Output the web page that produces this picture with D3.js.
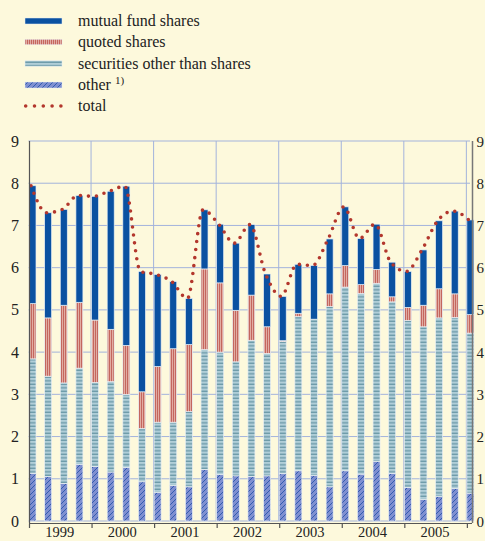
<!DOCTYPE html>
<html><head><meta charset="utf-8">
<script src="https://cdn.jsdelivr.net/npm/d3@7"></script>
<style>
html,body{margin:0;padding:0;background:#fdf9dc;}
svg{display:block;}
text{font-family:"Liberation Serif","Times New Roman",serif;fill:#222;}
</style></head>
<body>
<script>
// quarters 1999 Q1 .. 2006 Q1
const quarters = d3.range(29).map(i => 1999 + i / 4);
const other      = [1.13,1.05,0.89,1.34,1.29,1.16,1.27,0.93,0.68,0.84,0.81,1.22,1.10,1.07,1.05,1.07,1.12,1.19,1.08,0.81,1.19,1.11,1.41,1.13,0.79,0.51,0.58,0.77,0.66];
const securities = [2.71,2.38,2.38,2.28,1.99,2.14,1.73,1.26,1.66,1.50,1.78,2.84,2.90,2.70,3.23,2.90,3.13,3.65,3.70,4.27,4.35,4.28,4.22,4.06,3.96,4.09,4.23,4.05,3.79];
const quoted     = [1.31,1.38,1.84,1.56,1.48,1.24,1.16,0.87,1.32,1.74,1.59,1.91,1.64,1.22,1.07,0.63,0.02,0.08,0.00,0.30,0.51,0.21,0.33,0.12,0.31,0.51,0.69,0.56,0.44];
const mutual     = [2.79,2.49,2.27,2.53,2.93,3.27,3.77,2.85,2.18,1.59,1.09,1.40,1.39,1.59,1.67,1.25,1.05,1.16,1.27,1.30,1.39,1.09,1.07,0.82,0.85,1.31,1.61,1.96,2.24];
const total      = [7.94,7.30,7.38,7.71,7.69,7.81,7.93,5.91,5.84,5.67,5.27,7.37,7.03,6.58,7.02,5.85,5.32,6.08,6.05,6.68,7.44,6.69,7.03,6.13,5.91,6.42,7.11,7.34,7.13];
const years = [1999,2000,2001,2002,2003,2004,2005];
const yTicks = [0,1,2,3,4,5,6,7,8,9];
const seriesNames = ["mutual fund shares","quoted shares","securities other than shares","other"];
const seriesKeys = ["other","securities","quoted","mutual"];

const W = 485, H = 541;
const svg = d3.select("body").append("svg").attr("width", W).attr("height", H);
svg.append("rect").attr("width", W).attr("height", H).attr("fill", "#fdf9dc");

const defs = svg.append("defs");
// quoted: vertical stripes
const pq = defs.append("pattern").attr("id","pq").attr("patternUnits","userSpaceOnUse").attr("width",2).attr("height",4);
pq.append("rect").attr("width",2).attr("height",4).attr("fill","#e2ada3");
pq.append("rect").attr("x",1).attr("width",1).attr("height",4).attr("fill","#c4665e");
// securities: horizontal stripes
const ps = defs.append("pattern").attr("id","ps").attr("patternUnits","userSpaceOnUse").attr("width",4).attr("height",3.5);
ps.append("rect").attr("width",4).attr("height",3.5).attr("fill","#b0ced8");
ps.append("rect").attr("y",2.2).attr("width",4).attr("height",1.2).attr("fill","#6594a3");
// other: diagonal hatch
const po = defs.append("pattern").attr("id","po").attr("patternUnits","userSpaceOnUse").attr("width",5).attr("height",5);
po.append("rect").attr("width",5).attr("height",5).attr("fill","#7f8fd0");
po.append("path").attr("d","M0,5 L5,0 M-1,1 L1,-1 M4,6 L6,4").attr("stroke","#1f4fa8").attr("stroke-width",0.8);

const x = d3.scaleLinear().domain([1999, 2006.09]).range([28.5, 472]);
const y = d3.scaleLinear().domain([0, 9]).range([521, 141]);
const barW = 7;

// grid
const grid = svg.append("g");
grid.selectAll("line.h").data(yTicks).join("line")
  .attr("x1", x(1999)).attr("x2", 470).attr("y1", d => y(d)).attr("y2", d => y(d))
  .attr("stroke", "#a3b3dc").attr("stroke-width", 1);
grid.selectAll("line.v").data(years.slice(1).concat([2006])).join("line")
  .attr("x1", d => x(d)).attr("x2", d => x(d)).attr("y1", y(9)).attr("y2", y(0))
  .attr("stroke", "#a3b3dc").attr("stroke-width", 1);

// stacked bars
const rows = quarters.map((q, i) => ({q, other: other[i], securities: securities[i], quoted: quoted[i], mutual: mutual[i]}));
const stack = d3.stack().keys(seriesKeys)(rows);
const fills = {other: "url(#po)", securities: "url(#ps)", quoted: "url(#pq)", mutual: "#0a51a1"};
svg.append("g").selectAll("g").data(stack).join("g")
  .attr("fill", d => fills[d.key])
  .selectAll("rect").data(d => d.filter(e => e[1] - e[0] > 0.001)).join("rect")
  .attr("x", d => x(d.data.q) + 0.5).attr("width", barW)
  .attr("y", d => y(d[1])).attr("height", d => y(d[0]) - y(d[1]))
  .attr("stroke", "#e8eef2").attr("stroke-width", 0.7);

// total dotted line
const line = d3.line().x((d, i) => x(quarters[i]) + 0.5 + barW / 2 - 1.5).y(d => y(d)).curve(d3.curveMonotoneX);
svg.append("path").datum(total).attr("d", line)
  .attr("fill", "none").attr("stroke", "#b3372d").attr("stroke-width", 3.6)
  .attr("stroke-linecap", "round").attr("stroke-dasharray", "0 8");

// axes lines
svg.append("line").attr("x1", 29.5).attr("x2", 29.5).attr("y1", y(9)).attr("y2", y(0) + 2)
  .attr("stroke", "#555").attr("stroke-width", 1.2);
svg.append("line").attr("x1", 472.5).attr("x2", 472.5).attr("y1", y(9)).attr("y2", y(0) + 2)
  .attr("stroke", "#777").attr("stroke-width", 1.5);
svg.append("line").attr("x1", 29).attr("x2", 472).attr("y1", 523.5).attr("y2", 523.5)
  .attr("stroke", "#555").attr("stroke-width", 1.2);
svg.selectAll("line.xt").data(years.concat([2006])).join("line")
  .attr("x1", d => x(d) + 1).attr("x2", d => x(d) + 1).attr("y1", 523.5).attr("y2", 528)
  .attr("stroke", "#555").attr("stroke-width", 1.2);

// y tick labels
svg.selectAll("text.yl").data(yTicks).join("text")
  .attr("x", 19).attr("y", d => y(d) + 5.5).attr("text-anchor", "end")
  .attr("font-size", 16).text(d => d);
svg.selectAll("text.yr").data(yTicks).join("text")
  .attr("x", 476.5).attr("y", d => y(d) + 5.5).attr("text-anchor", "start")
  .attr("font-size", 15).text(d => d);
// year labels
svg.selectAll("text.xl").data(years).join("text")
  .attr("x", d => x(d + 0.5)).attr("y", 537).attr("text-anchor", "middle")
  .attr("font-size", 14.5).text(d => d);

// legend
const lg = svg.append("g");
const legY = [21, 42, 63.5, 85, 106];
const sw = [
  {fill: "#0a51a1", h: 6},
  {fill: "url(#pq)", h: 5.5},
  {fill: "url(#ps)", h: 5.5},
  {fill: "url(#po)", h: 6}
];
seriesNames.forEach((name, i) => {
  lg.append("rect").attr("x", 25).attr("y", legY[i] - sw[i].h / 2).attr("width", 37).attr("height", sw[i].h)
    .attr("fill", sw[i].fill).attr("stroke", "#e8eef2").attr("stroke-width", 0.5);
  const t = lg.append("text").attr("x", 78).attr("y", legY[i] + 5).attr("font-size", 16).text(name);
  if (i === 3) t.append("tspan").attr("dx", 4).attr("dy", -6).attr("font-size", 11).text("1)");
});
lg.append("line").attr("x1", 25.7).attr("x2", 61).attr("y1", legY[4]).attr("y2", legY[4])
  .attr("stroke", "#b3372d").attr("stroke-width", 3.6).attr("stroke-linecap", "round").attr("stroke-dasharray", "0 8.8");
lg.append("text").attr("x", 78).attr("y", legY[4] + 5).attr("font-size", 16).text("total");
</script>
</body></html>
